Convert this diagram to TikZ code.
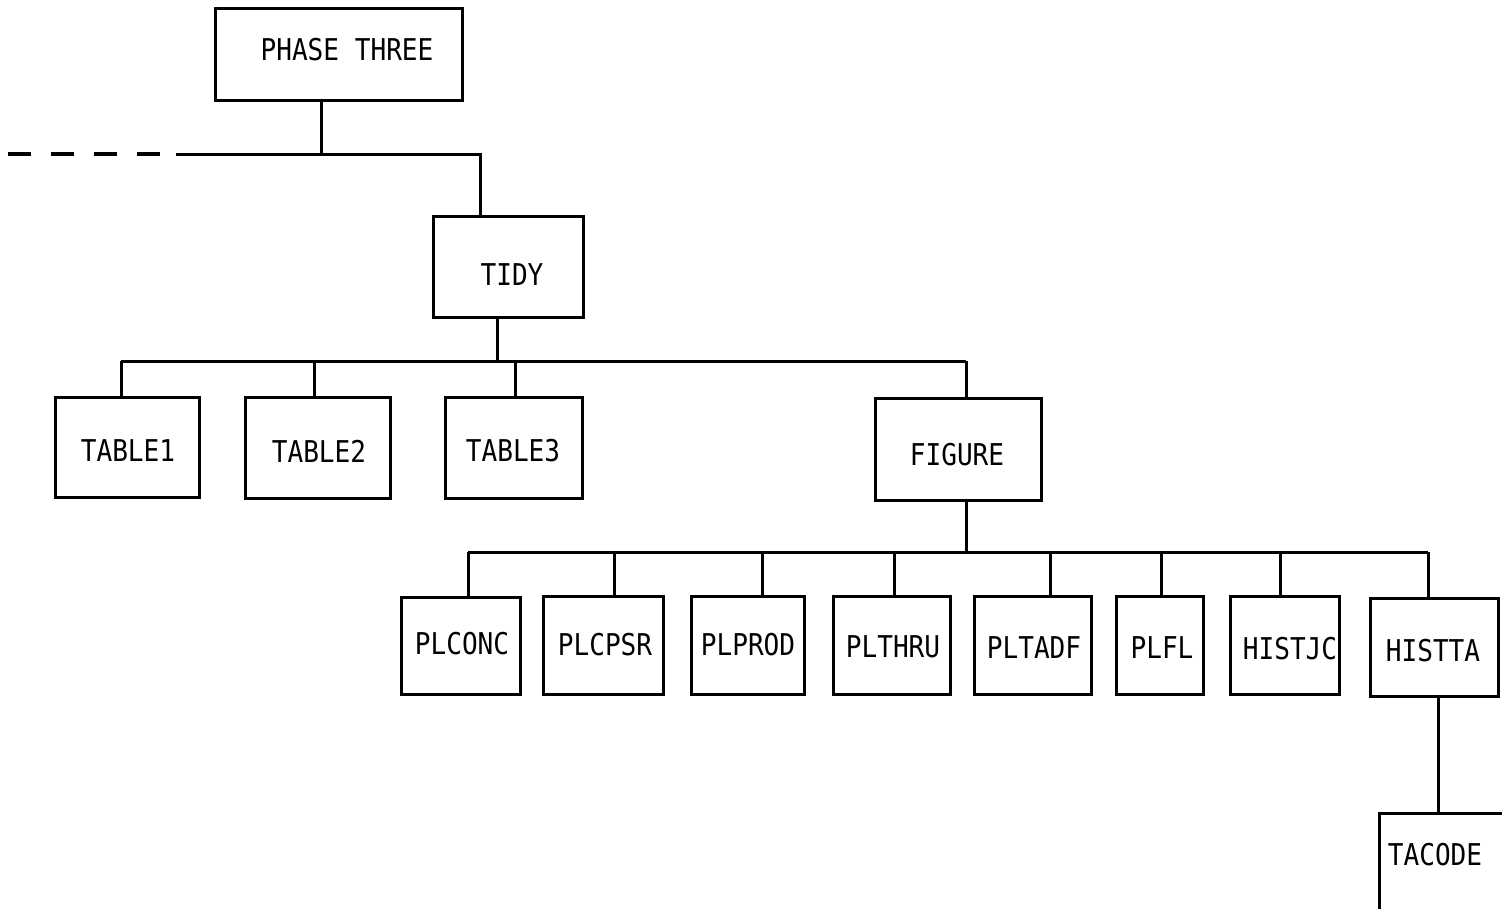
\documentclass[tikz,border=0pt]{standalone}
\usepackage{fontspec}
\newfontfamily\boxfont[FakeStretch=0.87]{DejaVu Sans Mono}
\begin{document}
\begin{tikzpicture}[x=1pt,y=-1pt,
  box/.style={draw, line width=3pt, inner sep=0pt, font=\boxfont\fontsize{30}{30}\selectfont},
  lbl/.style={inner sep=0pt, font=\boxfont\fontsize{30}{30}\selectfont},
  conn/.style={line width=3pt},
  dashconn/.style={line width=3.2pt, dash pattern=on 23pt off 20pt}]
\useasboundingbox (0,0) rectangle (1502,908);
\clip (0,0) rectangle (1502,908);
\fill[white] (0,0) rectangle (1502,908);

% boxes
\node[box, minimum width=247pt, minimum height=92pt] (p3) at (338.5,54) {};
\node[lbl] (p3lbl) at (347,50) {PHASE THREE};
\node[box, minimum width=150pt, minimum height=101pt] (tidy) at (508,266.5) {};
\node[lbl] (tidylbl) at (512,275) {TIDY};

\node[box, minimum width=144pt, minimum height=100pt] (t1) at (127,447) {};
\node[lbl] (t1lbl) at (128,451) {TABLE1};
\node[box, minimum width=145pt, minimum height=101pt] (t2) at (317.5,447.5) {};
\node[lbl] (t2lbl) at (319,451) {TABLE2};
\node[box, minimum width=137pt, minimum height=101pt] (t3) at (513.5,447.5) {};
\node[lbl] (t3lbl) at (513,451) {TABLE3};
\node[box, minimum width=166pt, minimum height=102pt] (fig) at (958,449) {};
\node[lbl] (figlbl) at (957,455) {FIGURE};

\node[box, minimum width=119pt, minimum height=97pt] (plconc) at (460.5,645.5) {};
\node[lbl] (plconclbl) at (462,644) {PLCONC};
\node[box, minimum width=120pt, minimum height=98pt] (plcpsr) at (603,645) {};
\node[lbl] (plcpsrlbl) at (605,645) {PLCPSR};
\node[box, minimum width=113pt, minimum height=98pt] (plprod) at (747.5,645) {};
\node[lbl] (plprodlbl) at (748,645) {PLPROD};
\node[box, minimum width=117pt, minimum height=98pt] (plthru) at (891.5,645) {};
\node[lbl] (plthrulbl) at (893,647) {PLTHRU};
\node[box, minimum width=117pt, minimum height=98pt] (pltadf) at (1032.5,645) {};
\node[lbl] (pltadflbl) at (1034,648) {PLTADF};
\node[box, minimum width=87pt, minimum height=98pt] (plfl) at (1159.5,645) {};
\node[lbl] (plfllbl) at (1162,648) {PLFL};
\node[box, minimum width=109pt, minimum height=98pt] (histjc) at (1284.5,645) {};
\node[lbl] (histjclbl) at (1290,649) {HISTJC};
\node[box, minimum width=128pt, minimum height=98pt] (histta) at (1434,647) {};
\node[lbl] (histtalbl) at (1433,651) {HISTTA};
\node[box, minimum width=130pt, minimum height=100pt, anchor=north west] (tacode) at (1378,812) {};
\node[lbl] (tacodelbl) at (1435,855) {TACODE};

% bus A
\coordinate (aj) at (321,154);
\coordinate (al) at (176,154);
\coordinate (ar) at (480,154);
\coordinate (ad) at (8,154);
\draw[conn] (p3.south -| aj) -- (aj);
\draw[conn] (al) -- (ar) -- (tidy.north -| ar);
\draw[dashconn] (ad) -- (al);

% bus B
\coordinate (bj) at (497,361);
\coordinate (b1) at (121,361);
\coordinate (b2) at (314,361);
\coordinate (b3) at (515,361);
\coordinate (b4) at (966,361);
\draw[conn] (tidy.south -| bj) -- (bj);
\draw[conn] (b1) -- (b4);
\draw[conn] (b1) -- (t1.north -| b1);
\draw[conn] (b2) -- (t2.north -| b2);
\draw[conn] (b3) -- (t3.north -| b3);
\draw[conn] (b4) -- (fig.north -| b4);

% bus C
\coordinate (cj) at (966,552);
\coordinate (c1) at (468,552);
\coordinate (c2) at (614,552);
\coordinate (c3) at (762,552);
\coordinate (c4) at (894,552);
\coordinate (c5) at (1050,552);
\coordinate (c6) at (1161,552);
\coordinate (c7) at (1280,552);
\coordinate (c8) at (1428,552);
\draw[conn] (fig.south -| cj) -- (cj);
\draw[conn] (c1) -- (c8);
\draw[conn] (c1) -- (plconc.north -| c1);
\draw[conn] (c2) -- (plcpsr.north -| c2);
\draw[conn] (c3) -- (plprod.north -| c3);
\draw[conn] (c4) -- (plthru.north -| c4);
\draw[conn] (c5) -- (pltadf.north -| c5);
\draw[conn] (c6) -- (plfl.north -| c6);
\draw[conn] (c7) -- (histjc.north -| c7);
\draw[conn] (c8) -- (histta.north -| c8);

% HISTTA to TACODE
\coordinate (dj) at (1438,0);
\draw[conn] (histta.south -| dj) -- (tacode.north -| dj);
\end{tikzpicture}
\end{document}
